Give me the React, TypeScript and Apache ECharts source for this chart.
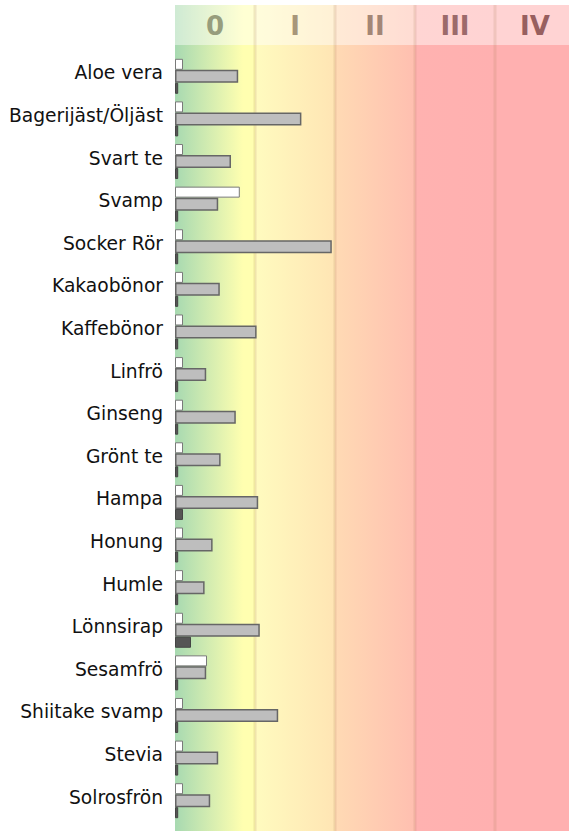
import React, { useEffect, useRef } from "react";
import * as echarts from "echarts";

const categories = [
  "Aloe vera",
  "Bagerijäst/Öljäst",
  "Svart te",
  "Svamp",
  "Socker Rör",
  "Kakaobönor",
  "Kaffebönor",
  "Linfrö",
  "Ginseng",
  "Grönt te",
  "Hampa",
  "Honung",
  "Humle",
  "Lönnsirap",
  "Sesamfrö",
  "Shiitake svamp",
  "Stevia",
  "Solrosfrön",
];
const whiteValues = [10, 10, 10, 81, 10, 10, 10, 10, 10, 10, 10, 10, 10, 10, 40, 10, 10, 10];
const grayValues = [79, 158, 70, 54, 196, 56, 102, 39, 76, 57, 104, 47, 37, 106, 39, 129, 54, 44];
const darkValues = [4, 4, 4, 4, 4, 4, 4, 4, 4, 4, 10, 4, 4, 20, 4, 4, 4, 4];
const zoneLabels = ["0", "I", "II", "III", "IV"];
const zoneMax = 500;

const PLOT_LEFT = 175;
const ZONE_W = 80;
const TOP = 5;
const HEADER_BOTTOM = 45;
const BOTTOM = 831;

const zoneGradients: [string, string][] = [
  ["#a7d9b1", "#ffffb0"],
  ["#fffbbf", "#ffe5b4"],
  ["#ffdab4", "#ffbfb0"],
  ["#ffb2b0", "#ffb0b0"],
  ["#ffb0b0", "#ffb0b0"],
];
const zoneTextColors = ["#979d7d", "#a8967a", "#a48676", "#9c6a6a", "#985f5f"];

export default function App() {
  const ref = useRef<HTMLDivElement>(null);
  useEffect(() => {
    if (!ref.current) return;
    const chart = echarts.init(ref.current, undefined, { renderer: "svg" });
    const graphics: any[] = [];
    zoneLabels.forEach((lab, i) => {
      const x0 = PLOT_LEFT + i * ZONE_W;
      const [c0, c1] = zoneGradients[i];
      const stops =
        i === 0
          ? [
              { offset: 0, color: c0 },
              { offset: 0.85, color: c1 },
              { offset: 1, color: c1 },
            ]
          : [
              { offset: 0, color: c0 },
              { offset: 1, color: c1 },
            ];
      graphics.push({
        type: "rect",
        z: -10,
        silent: true,
        shape: { x: x0, y: TOP, width: ZONE_W, height: BOTTOM - TOP },
        style: { fill: new echarts.graphic.LinearGradient(0, 0, 1, 0, stops) },
      });
      graphics.push({
        type: "rect",
        z: -9,
        silent: true,
        shape: { x: x0, y: TOP, width: ZONE_W, height: HEADER_BOTTOM - TOP },
        style: { fill: "rgba(255,255,255,0.45)" },
      });
      if (i > 0) {
        graphics.push({
          type: "rect",
          z: -8,
          silent: true,
          shape: { x: x0 - 1.5, y: TOP, width: 3, height: BOTTOM - TOP },
          style: { fill: "rgba(170,130,90,0.18)" },
        });
      }
      graphics.push({
        type: "text",
        z: -7,
        silent: true,
        x: x0 + ZONE_W / 2,
        y: (TOP + HEADER_BOTTOM) / 2 + 1,
        style: {
          text: lab,
          fill: zoneTextColors[i],
          font: "bold 26px 'DejaVu Sans'",
          align: "center",
          verticalAlign: "middle",
        },
      });
    });

    const barStyle = (fill: string, border: string, bw: number) => ({
      color: fill,
      borderColor: border,
      borderWidth: bw,
    });

    chart.setOption({
      animation: false,
      graphic: graphics,
      grid: { left: PLOT_LEFT, top: 55, width: zoneLabels.length * ZONE_W, height: 767, containLabel: false },
      xAxis: {
        type: "value",
        min: 0,
        max: zoneMax,
        show: false,
      },
      yAxis: {
        type: "category",
        data: categories,
        inverse: true,
        axisLine: { show: false },
        axisTick: { show: false },
        splitLine: { show: false },
        axisLabel: {
          margin: 12,
          formatter: "{a|{value}}",
          rich: {
            a: {
              color: "#111",
              fontSize: 18.7,
              fontFamily: "DejaVu Sans",
              padding: [0, 0, 7, 0],
            },
          },
        },
      },
      series: [
        {
          type: "bar",
          data: whiteValues,
          barWidth: 11,
          barGap: "0%",
          itemStyle: barStyle("#ffffff", "#7a7a7a", 1),
        },
        {
          type: "bar",
          data: grayValues,
          barWidth: 13,
          barGap: "0%",
          itemStyle: barStyle("#bebebe", "#666666", 1.5),
        },
        {
          type: "bar",
          data: darkValues,
          barWidth: 11,
          barGap: "0%",
          itemStyle: barStyle("#555555", "#444444", 1),
        },
      ],
    });
    return () => chart.dispose();
  }, []);
  return (
    <div style={{ position: "absolute", left: 0, top: 0, width: 569, height: 831, overflow: "hidden" }}>
      <div ref={ref} style={{ width: 575, height: 831 }} />
    </div>
  );
}
